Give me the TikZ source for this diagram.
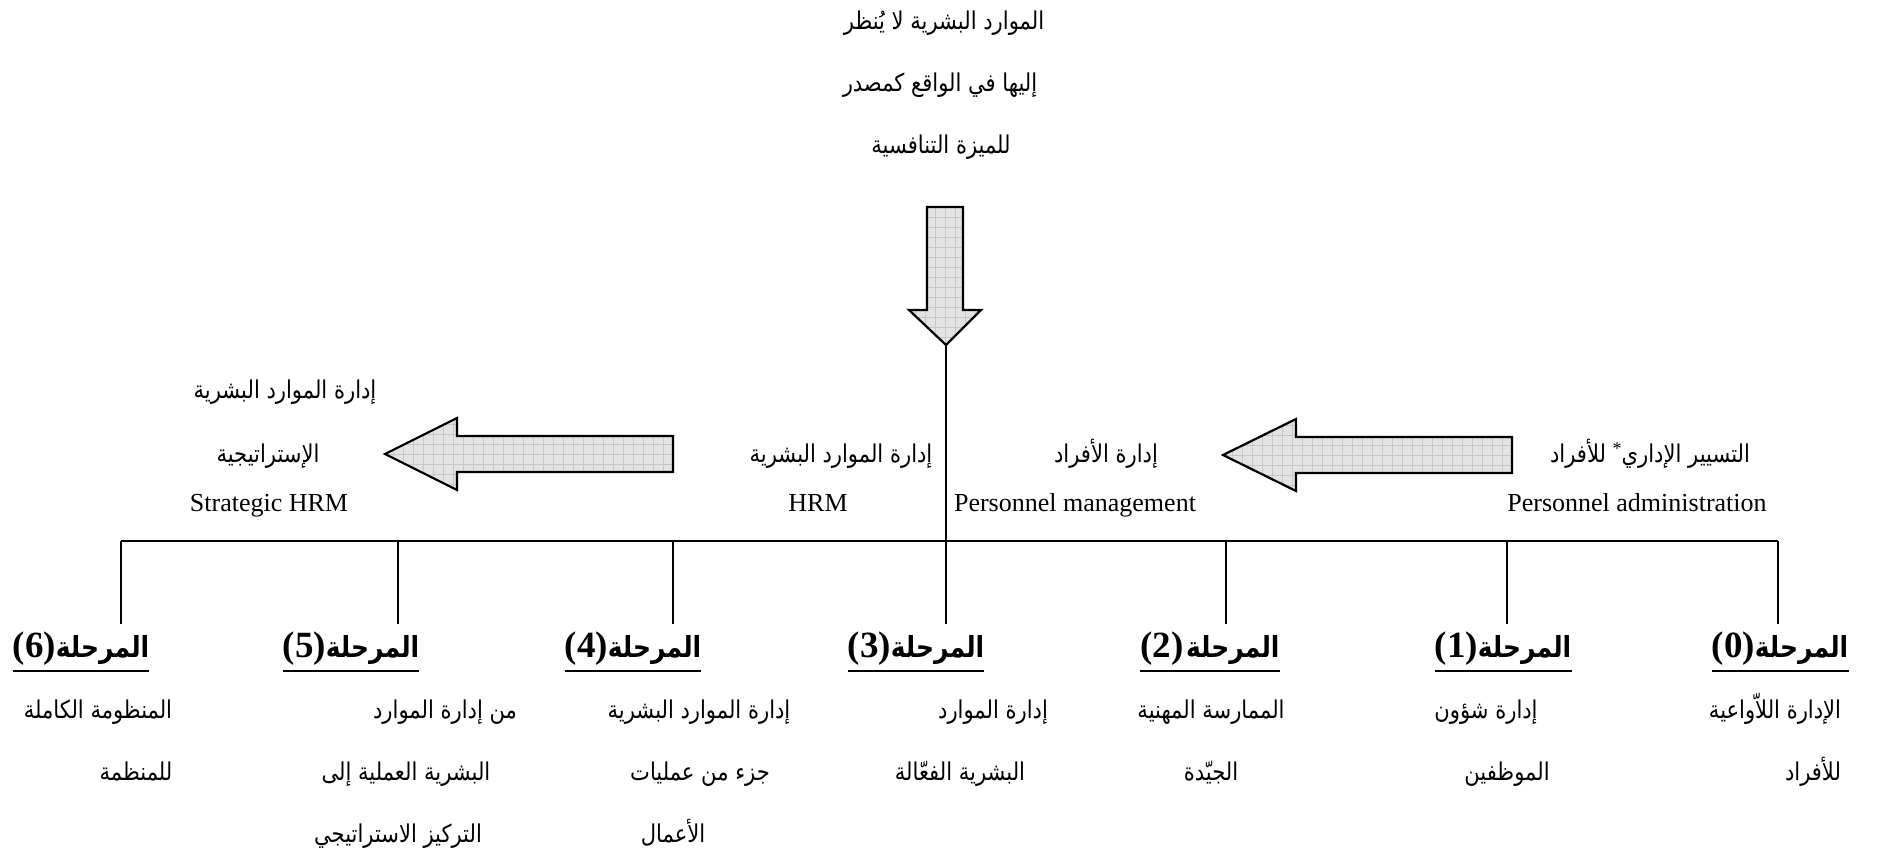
\documentclass[tikz,border=0pt]{standalone}
\usepackage{fontspec}
\setmainfont{Liberation Serif}
\newfontfamily\arabicfont[Script=Arabic, FakeStretch=0.86]{DejaVu Sans}
\TeXXeTstate=1

% right-to-left run of Arabic words
\newcommand\rl[1]{\beginR #1\endR}
% stage heading: bold number and bold Arabic word
\newcommand\stnum[1]{{\rmfamily\bfseries\fontsize{37}{40}\selectfont #1}}
\newcommand\stword[1]{{\arabicfont\bfseries\fontsize{29}{32}\selectfont\beginR #1\endR}}

\begin{document}
\begin{tikzpicture}[x=1pt,y=-1pt,
  ar/.style={font=\arabicfont\fontsize{24.5}{28}\selectfont, inner sep=0pt, anchor=base},
  la/.style={font=\fontsize{26}{30}\selectfont, inner sep=0pt, anchor=base},
  stage/.style={inner sep=0pt, anchor=base, text height=33pt, text depth=8pt},
  bus/.style={line width=1.5pt},
  uline/.style={line width=2.6pt},
  arrowfill/.style={fill=black!11},
  gridline/.style={draw=black!22, line width=0.5pt},
  arrowline/.style={draw=black, line width=2.2pt, line join=miter},
]
\useasboundingbox (0,0) rectangle (1887,866);

% outlines of the three block arrows
\def\downpath{(927,207) -- (963,207) -- (963,310) -- (981,310) -- (946,345) -- (909,310) -- (927,310) -- cycle}
\def\leftpath{(673,436) -- (457,436) -- (457,418) -- (385,454) -- (457,490) -- (457,472) -- (673,472) -- cycle}
\def\rightpath{(1512,437) -- (1296,437) -- (1296,419) -- (1223,455) -- (1296,491) -- (1296,473) -- (1512,473) -- cycle}

% down arrow with grid fill
\begin{scope}
  \clip \downpath;
  \fill[arrowfill] (900,200) rectangle (990,350);
  \foreach \gx in {905,915,...,985} \draw[gridline] (\gx,200) -- (\gx,350);
  \foreach \gy in {207,217,...,347} \draw[gridline] (900,\gy) -- (990,\gy);
\end{scope}
\draw[arrowline] \downpath;

% left arrow with grid fill
\begin{scope}
  \clip \leftpath;
  \fill[arrowfill] (380,410) rectangle (680,495);
  \foreach \gx in {383,393,...,673} \draw[gridline] (\gx,410) -- (\gx,495);
  \foreach \gy in {414,424,...,494} \draw[gridline] (380,\gy) -- (680,\gy);
\end{scope}
\draw[arrowline] \leftpath;

% right arrow with grid fill
\begin{scope}
  \clip \rightpath;
  \fill[arrowfill] (1218,410) rectangle (1518,495);
  \foreach \gx in {1222,1232,...,1512} \draw[gridline] (\gx,410) -- (\gx,495);
  \foreach \gy in {415,425,...,495} \draw[gridline] (1218,\gy) -- (1518,\gy);
\end{scope}
\draw[arrowline] \rightpath;

% top statement
\node[ar] (t1) at (944,30) {\rl{الموارد البشرية لا يُنظر}};
\node[ar] (t2) at (940,92) {\rl{إليها في الواقع كمصدر}};
\node[ar] (t3) at (941,154) {\rl{للميزة التنافسية}};

% labels along the arrows
\node[ar] (s1) at (285,399) {\rl{إدارة الموارد البشرية}};
\node[ar] (s2) at (268,462) {\rl{الإستراتيجية}};
\node[la] (s3) at (269,511) {Strategic HRM};
\node[ar] (m1) at (841,462) {\rl{إدارة الموارد البشرية}};
\node[la] (m2) at (818,511) {HRM};
\node[ar] (p1) at (1106,462) {\rl{إدارة الأفراد}};
\node[la] (p2) at (1075,511) {Personnel management};
\node[ar] (a1) at (1650,462) {\rl{للأفراد}\ \raisebox{8pt}{\fontsize{18}{20}\rmfamily *}\rl{التسيير الإداري}};
\node[la] (a2) at (1637,511) {Personnel administration};

% stage headings
\node[stage] (h6) at (81,657)   {\stnum{(6)}\stword{المرحلة}};
\node[stage] (h5) at (351,657)  {\stnum{(5)}\stword{المرحلة}};
\node[stage] (h4) at (633,657)  {\stnum{(4)}\stword{المرحلة}};
\node[stage] (h3) at (916,657)  {\stnum{(3)}\stword{المرحلة}};
\node[stage] (h2) at (1210,657) {\stnum{(2)}\ \stword{المرحلة}};
\node[stage] (h1) at (1503,657) {\stnum{(1)}\stword{المرحلة}};
\node[stage] (h0) at (1780,657) {\stnum{(0)}\stword{المرحلة}};
\foreach \h in {h6,h5,h4,h3,h2,h1,h0}
  \draw[uline] (\h.west |- 0,671) -- (\h.east |- 0,671);

% stage descriptions
\node[ar] (d6a) at (98,718)   {\rl{المنظومة الكاملة}};
\node[ar] (d6b) at (136,780)  {\rl{للمنظمة}};
\node[ar] (d5a) at (445,718)  {\rl{من إدارة الموارد}};
\node[ar] (d5b) at (406,780)  {\rl{البشرية العملية إلى}};
\node[ar] (d5c) at (398,842)  {\rl{التركيز الاستراتيجي}};
\node[ar] (d4a) at (699,718)  {\rl{إدارة الموارد البشرية}};
\node[ar] (d4b) at (700,780)  {\rl{جزء من عمليات}};
\node[ar] (d4c) at (673,842)  {\rl{الأعمال}};
\node[ar] (d3a) at (993,718)  {\rl{إدارة الموارد}};
\node[ar] (d3b) at (960,780)  {\rl{البشرية الفعّالة}};
\node[ar] (d2a) at (1211,718) {\rl{الممارسة المهنية}};
\node[ar] (d2b) at (1211,780) {\rl{الجيّدة}};
\node[ar] (d1a) at (1486,718) {\rl{إدارة شؤون}};
\node[ar] (d1b) at (1507,780) {\rl{الموظفين}};
\node[ar] (d0a) at (1775,718) {\rl{الإدارة اللاّواعية}};
\node[ar] (d0b) at (1813,780) {\rl{للأفراد}};

% connectors: arrow tip down to the bus, bus to each stage
\coordinate (tip) at (946,345);
\coordinate (b6) at (121,541);
\coordinate (b5) at (398,541);
\coordinate (b4) at (673,541);
\coordinate (b3) at (946,541);
\coordinate (b2) at (1226,541);
\coordinate (b1) at (1507,541);
\coordinate (b0) at (1778,541);
\draw[bus] (tip) -- (b3);
\draw[bus] (b6) -- (b0);
\foreach \b/\h in {b6/h6,b5/h5,b4/h4,b3/h3,b2/h2,b1/h1,b0/h0}
  \draw[bus] (\b) -- (\b |- \h.north);
\end{tikzpicture}
\end{document}
